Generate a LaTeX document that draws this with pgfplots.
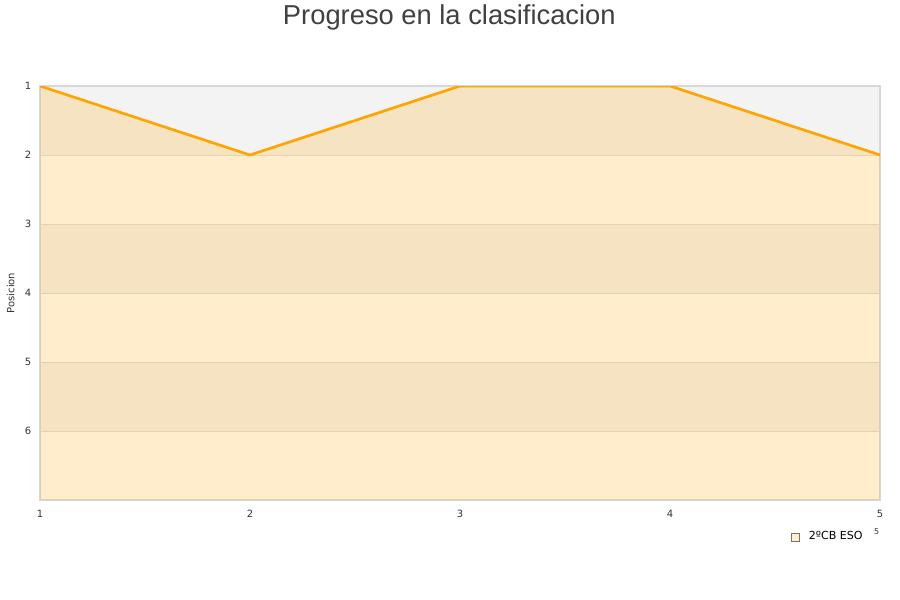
\documentclass[border=0pt]{standalone}
\usepackage{pgfplots}
\pgfplotsset{compat=1.18}
\usepackage{fontspec}
\setmainfont{DejaVu Sans}
\newfontfamily\titlefont{Liberation Sans}
\definecolor{bandgray}{HTML}{F3F3F3}
\definecolor{gridc}{HTML}{DDDDDD}
\definecolor{framec}{HTML}{D8D8D8}
\definecolor{lineor}{HTML}{FFA500}
\definecolor{txt}{HTML}{333333}
\begin{document}
\begin{tikzpicture}
\begin{axis}[
    set layers,
    at={(30pt,75pt)}, anchor=south west,
    scale only axis,
    width=630pt, height=310.5pt,
    xmin=1, xmax=5, ymin=1, ymax=7,
    y dir=reverse,
    xtick={1,2,3,4,5}, ytick={1,2,3,4,5,6},
    major tick length=0pt,
    ymajorgrids=true,
    grid style={gridc, line width=0.6pt},
    axis line style={framec, line width=0.8pt},
    tick label style={font=\fontsize{7.5}{9}\selectfont, text=txt},
    yticklabel style={xshift=-3pt},
    xticklabel style={yshift=-4pt},
    ylabel={Posicion},
    ylabel style={font=\fontsize{7.5}{9}\selectfont, text=txt, yshift=1pt},
    legend style={at={(0.894,-0.089)}, anchor=west, draw=none, fill=none,
        font=\fontsize{8.3}{10}\selectfont, inner sep=0pt},
    legend cell align=left,
    /pgf/number format/assume math mode=true,
]
\addplot[draw=none, fill=bandgray, on layer=axis background, forget plot]
  coordinates {(1,1) (5,1) (5,2) (1,2)} -- cycle;
\addplot[draw=none, fill=bandgray, on layer=axis background, forget plot]
  coordinates {(1,3) (5,3) (5,4) (1,4)} -- cycle;
\addplot[draw=none, fill=bandgray, on layer=axis background, forget plot]
  coordinates {(1,5) (5,5) (5,6) (1,6)} -- cycle;
\addplot[draw=none, fill=lineor, fill opacity=0.2, forget plot]
  coordinates {(1,1) (2,2) (3,1) (4,1) (5,2) (5,7) (1,7)} -- cycle;
\addplot[lineor, line width=2pt, mark=none,
  legend image code/.code={\path[draw=none] (0pt,0pt) -- (11pt,0pt);
    \draw[fill=lineor!20, draw=black!55, line width=0.5pt] (0pt,-3pt) rectangle (6pt,3pt);}]
  coordinates {(1,1) (2,2) (3,1) (4,1) (5,2)};
\addlegendentry{2ºCB ESO}
\end{axis}
\node[font=\titlefont\fontsize{20.5}{24}\selectfont, text=black!75, anchor=center] at (337pt,437pt) {Progreso en la clasificacion};
\node[font=\fontsize{6}{7}\selectfont, text=txt] at (657.5pt,51pt) {5};
\path (0,0) rectangle (675pt,450pt);
\end{tikzpicture}
\end{document}
